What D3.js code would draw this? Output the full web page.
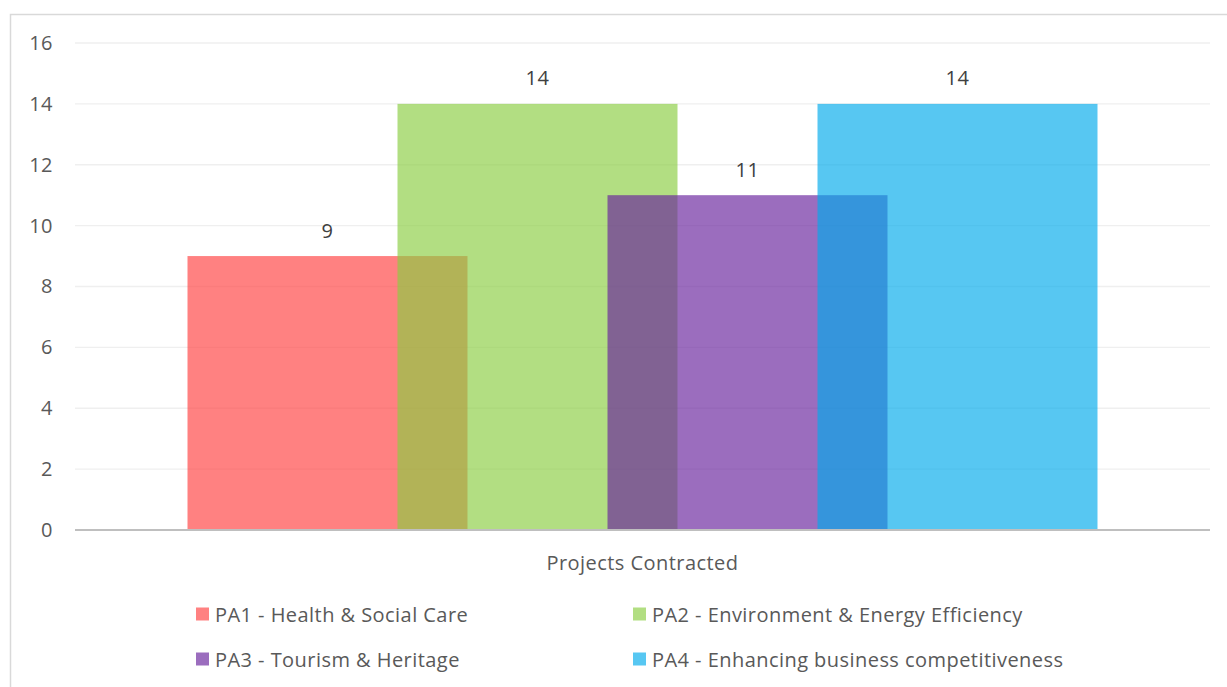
<!DOCTYPE html>
<html><head><meta charset="utf-8">
<script src="https://cdn.jsdelivr.net/npm/d3@7"></script>
<style>body{margin:0;background:#fff}svg{display:block}text{font-family:"Open Sans",sans-serif;letter-spacing:0.45px}</style>
</head><body>
<svg id="c" width="1227" height="687"></svg>
<script>
const categories = ["Projects Contracted"];
const seriesNames = ["PA1 - Health & Social Care","PA2 - Environment & Energy Efficiency","PA3 - Tourism & Heritage","PA4 - Enhancing business competitiveness"];
const seriesValues = [9, 14, 11, 14];
const seriesColors = ["#ff3f3f","#8acd42","#67229c","#00aaec"];
const yTicks = [0,2,4,6,8,10,12,14,16];

const svg = d3.select("#c");
const pLeft = 75, pRight = 1210, pTop = 43, pBottom = 530;
const fs = 20;
svg.append("rect").attr("x",10.5).attr("y",14.5).attr("width",1240).attr("height",700)
  .attr("fill","#fff").attr("stroke","#d9d9d9").attr("stroke-width",1.5);

const y = d3.scaleLinear().domain([0,16]).range([pBottom, pTop]);
const x0 = d3.scaleBand().domain(categories).range([pLeft,pRight]);

// grid
svg.append("g").selectAll("line").data(yTicks.filter(t=>t>0)).join("line")
  .attr("x1",pLeft).attr("x2",pRight).attr("y1",d=>y(d)).attr("y2",d=>y(d))
  .attr("stroke","#efefef").attr("stroke-width",1.3);

// y axis labels
const yAxis = d3.axisLeft(y).tickValues(yTicks).tickSize(0).tickPadding(0);
const ga = svg.append("g").attr("transform",`translate(53,0)`).call(yAxis);
ga.select(".domain").remove();
ga.selectAll("text").attr("font-size",fs).attr("fill","#595959").attr("font-family",'"Open Sans",sans-serif');

// bars
const band = x0.bandwidth();
const barW = band * 280/1135;
const step = barW * 0.75;
const cluster = step*(seriesValues.length-1) + barW;
const x1start = x0(categories[0]) + (band-cluster)/2;
const xs = d3.scaleLinear().domain([0, seriesValues.length-1])
  .range([x1start, x1start + step*(seriesValues.length-1)]);

svg.append("g").selectAll("rect").data(seriesValues).join("rect")
  .attr("x",(d,i)=>xs(i)).attr("width",barW)
  .attr("y",d=>y(d)).attr("height",d=>y(0)-y(d))
  .attr("fill",(d,i)=>seriesColors[i]).attr("fill-opacity",0.66);

// baseline
svg.append("line").attr("x1",pLeft).attr("x2",pRight).attr("y1",y(0)).attr("y2",y(0))
  .attr("stroke","#bfbfbf").attr("stroke-width",1.8);

// data labels
svg.append("g").selectAll("text").data(seriesValues).join("text")
  .attr("x",(d,i)=>xs(i)+barW/2).attr("y",d=>y(d)-26)
  .attr("text-anchor","middle").attr("dominant-baseline","central")
  .attr("font-size",fs).attr("fill","#404040").text(d=>d);

// category label
svg.append("text").attr("x",x0(categories[0])+band/2).attr("y",562)
  .attr("text-anchor","middle").attr("dominant-baseline","central")
  .attr("font-size",fs).attr("fill","#595959").text(categories[0]);

// legend
const legPos = [[196,614],[633,614],[196,659],[633,659]];
const lg = svg.append("g").selectAll("g").data(seriesNames).join("g")
  .attr("transform",(d,i)=>`translate(${legPos[i][0]},${legPos[i][1]})`);
lg.append("rect").attr("x",0).attr("y",-6.5).attr("width",13).attr("height",13)
  .attr("fill",(d,i)=>seriesColors[i]).attr("fill-opacity",0.66);
lg.append("text").attr("x",19).attr("y",0).attr("dominant-baseline","central")
  .attr("font-size",fs).attr("fill","#595959").text(d=>d);
</script>
</body></html>
